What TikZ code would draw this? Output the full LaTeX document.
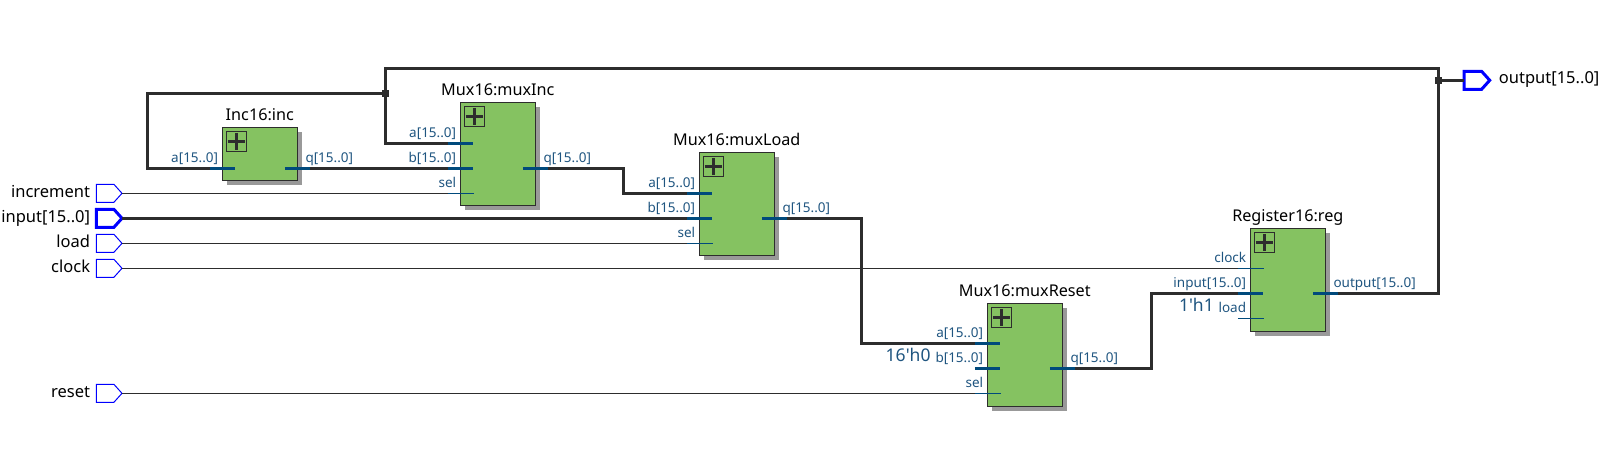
\documentclass[tikz,border=0pt]{standalone}
\usepackage{fontspec}
\setmainfont{Noto Sans}
\usepackage{tikz}
\usetikzlibrary{positioning,shadows,shapes.symbols}

\definecolor{wirecol}{HTML}{2D2D2D}
\definecolor{pincol}{HTML}{004A7C}
\definecolor{pintext}{HTML}{1F5580}
\definecolor{blockgreen}{HTML}{85C261}
\definecolor{shadowgray}{HTML}{999999}

\tikzset{
    wire/.style={draw=wirecol, line width=1pt},
    bus/.style={draw=wirecol, line width=3pt},
    pinstub/.style={draw=pincol, line width=1pt},
    busstub/.style={draw=pincol, line width=3pt},
    block/.style={draw=wirecol, fill=blockgreen, line width=1pt, anchor=north west,
        minimum width=75pt, inner sep=0pt, outer sep=0pt,
        drop shadow={shadow xshift=4.5pt, shadow yshift=-4.5pt, fill=shadowgray, opacity=1}},
    plusbox/.style={draw=wirecol, line width=1pt, minimum size=20pt, inner sep=0pt, outer sep=0pt,
        path picture={
            \draw[wirecol, line width=3pt, shorten >=1.5pt, shorten <=1.5pt]
                (path picture bounding box.west) -- (path picture bounding box.east);
            \draw[wirecol, line width=3pt, shorten >=1.5pt, shorten <=1.5pt]
                (path picture bounding box.north) -- (path picture bounding box.south);
        }},
    title/.style={font=\fontsize{16.2}{18}\selectfont, text=black, inner sep=0pt, anchor=base},
    pinlabel/.style={font=\fontsize{13.5}{15}\selectfont, text=pintext, inner sep=0pt},
    constlabel/.style={font=\fontsize{17.5}{18}\selectfont, text=pintext, inner sep=0pt, anchor=base east},
    portlabel/.style={font=\fontsize{16.5}{18}\selectfont, text=black, inner sep=0pt},
    port/.style={signal, signal to=east, signal pointer angle=96, draw=blue, line width=1pt, anchor=west,
        minimum width=25.7pt, minimum height=18pt, inner sep=0pt, outer sep=0pt},
    busport/.style={port, line width=3pt},
    junction/.style={fill=wirecol, minimum size=7pt, inner sep=0pt, outer sep=0pt},
}

\begin{document}
\begin{tikzpicture}[x=1pt,y=-1pt]

\useasboundingbox (0,0) rectangle (1605,458);

\foreach \blk/\xx/\yy/\hh/\ttl in {inc/222.3/127.3/53/Inc16:inc,
    muxInc/460.3/102.3/103/Mux16:muxInc,
    muxLoad/699.3/152.3/103/Mux16:muxLoad,
    muxReset/987.3/303.3/103/Mux16:muxReset,
    reg/1250.3/228.3/103/Register16:reg} {
    \node[block, minimum height=\hh pt] (\blk) at (\xx,\yy) {};
    \node[plusbox, below right=4pt and 4pt of \blk.north west] (\blk Plus) {};
    \node[title, above=7pt of \blk, anchor=base] (\blk Title) {\ttl};
}

% thick input pins
\foreach \pin/\xx/\yy/\txt in {incA/222.3/168.3/a[15..0],
    muxIncA/460.3/143.3/a[15..0], muxIncB/460.3/168.3/b[15..0],
    muxLoadA/699.3/193.3/a[15..0], muxLoadB/699.3/218.3/b[15..0],
    muxResetA/987.3/343.3/a[15..0], muxResetB/987.3/368.3/b[15..0],
    regInput/1250.3/293.3/input[15..0]} {
    \coordinate (\pin) at (\xx-12.5,\yy);
    \draw[busstub] (\pin) -- (\xx+12.5,\yy);
    \node[pinlabel, anchor=base east] (\pin Label) at (\xx-4,\yy-6) {\txt};
}

% thin input pins
\foreach \pin/\xx/\yy/\txt in {muxIncSel/460.3/193.3/sel, muxLoadSel/699.3/243.3/sel,
    muxResetSel/987.3/393.3/sel, regClock/1250.3/268.3/clock, regLoad/1250.3/318.3/load} {
    \coordinate (\pin) at (\xx-12.5,\yy);
    \draw[pinstub] (\pin) -- (\xx+13.5,\yy);
    \node[pinlabel, anchor=base east] (\pin Label) at (\xx-4,\yy-6) {\txt};
}

% output pins
\foreach \pin/\xx/\yy/\txt in {incQ/297.3/168.3/q[15..0], muxIncQ/535.3/168.3/q[15..0],
    muxLoadQ/774.3/218.3/q[15..0], muxResetQ/1062.3/368.3/q[15..0],
    regOutput/1325.3/293.3/output[15..0]} {
    \coordinate (\pin) at (\xx+12.5,\yy);
    \draw[busstub] (\xx-12.5,\yy) -- (\pin);
    \node[pinlabel, anchor=base west] (\pin Label) at (\xx+8,\yy-6) {\txt};
}

\node[constlabel] (constZero) at (930.7,361.7) {16\textquotesingle h0};
\node[constlabel] (constOne) at (1214,311.7) {1\textquotesingle h1};

% ports
\foreach \port/\yy/\txt in {increment/193.3/increment, load/243.3/load, clock/268.3/clock, reset/393.3/reset} {
    \node[port] (\port) at (96.3,\yy) {};
    \node[portlabel, left=6pt of \port, anchor=base east, yshift=-4pt] (\port Label) {\txt};
}
\node[busport] (input) at (96.3,218.3) {};
\node[portlabel, left=6pt of input, anchor=base east, yshift=-4pt] (inputLabel) {input[15..0]};
\node[busport] (output) at (1464,80.3) {};
\node[portlabel, right=9pt of output, anchor=base west, yshift=-3pt] (outputLabel) {output[15..0]};

\node[junction] (feedback) at (385.3,93.3) {};
\node[junction] (tap) at (1438.3,80.3) {};

\draw[wire] (increment.east) -- (muxIncSel);
\draw[wire] (load.east) -- (muxLoadSel);
\draw[wire] (clock.east) -- (regClock);
\draw[wire] (reset.east) -- (muxResetSel);
\draw[bus] (input.east) -- (muxLoadB);

\draw[bus] (incQ) -- (muxIncB);
\draw[bus] (muxIncQ) -| (623.7,193.3) -- (muxLoadA);
\draw[bus] (muxLoadQ) -| (861.7,343.3) -- (muxResetA);
\draw[bus] (muxResetQ) -| (1151,293.3) -- (regInput);

\draw[bus] (regOutput) -| (1438.3,68.3) -| (385.3,143.3) -- (muxIncA);
\draw[bus] (feedback) -| (147.3,168.3) -- (incA);
\draw[bus] (tap) -- (output.west);

\end{tikzpicture}
\end{document}
